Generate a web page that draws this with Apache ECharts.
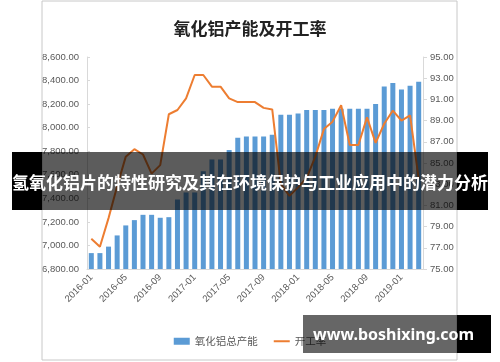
<!DOCTYPE html>
<html><head><meta charset="utf-8">
<script src="https://cdn.jsdelivr.net/npm/echarts@6/dist/echarts.min.js"></script>
<style>html,body{margin:0;padding:0;background:#fff}#c{width:500px;height:362px}</style>
</head><body><div id="c"></div>
<script>
const titleText = '氧化铝产能及开工率';
const bannerText = '氢氧化铝片的特性研究及其在环境保护与工业应用中的潜力分析';
const watermarkText = 'www.boshixing.com';
const seriesNames = ['氧化铝总产能', '开工率'];
const months = ['2016-01','2016-02','2016-03','2016-04','2016-05','2016-06','2016-07','2016-08','2016-09','2016-10','2016-11','2016-12',
  '2017-01','2017-02','2017-03','2017-04','2017-05','2017-06','2017-07','2017-08','2017-09','2017-10','2017-11','2017-12',
  '2018-01','2018-02','2018-03','2018-04','2018-05','2018-06','2018-07','2018-08','2018-09','2018-10','2018-11','2018-12',
  '2019-01','2019-02','2019-03'];
const capacity = [6935,6935,6990,7085,7170,7215,7260,7260,7235,7240,7390,7450,
  7450,7630,7730,7730,7810,7915,7925,7925,7925,7940,8110,8110,
  8120,8150,8150,8150,8160,8160,8160,8160,8160,8200,8350,8380,
  8325,8355,8390];
const rate = [77.85,77.1,79.8,82.8,85.6,86.3,85.8,84.0,84.8,89.6,90.0,91.1,
  93.3,93.3,92.2,92.2,91.1,90.75,90.75,90.75,90.2,90.05,83.0,81.9,
  82.7,83.6,85.6,88.2,88.9,90.45,86.7,86.7,89.3,86.9,88.7,89.95,
  89.0,89.5,83.5];
const leftTicks = [6800,7000,7200,7400,7600,7800,8000,8200,8400,8600];
const rightTicks = [75,77,79,81,83,85,87,89,91,93,95];

const axisFont = '"Liberation Sans", Arial, sans-serif';
const cjk = '"Noto Sans CJK SC", sans-serif';
const axisGray = '#d9d9d9';
const labelGray = '#595959';

const chart = echarts.init(document.getElementById('c'), null, {renderer: 'canvas'});
chart.setOption({
  animation: false,
  backgroundColor: '#fff',
  title: {
    text: titleText, left: 'center', top: 15,
    textStyle: {fontFamily: cjk, fontSize: 17, fontWeight: 'bold', color: '#222'}
  },
  grid: {left: 87, right: 77, top: 57, height: 212},
  legend: {
    top: 331, left: 'center', itemWidth: 16, itemHeight: 7, itemGap: 15,
    textStyle: {fontFamily: cjk, fontSize: 10.5, color: labelGray},
    data: [{name: seriesNames[0], icon: 'rect'},
           {name: seriesNames[1], itemStyle: {opacity: 0}, lineStyle: {color: '#ed7d31', width: 2}}]
  },
  xAxis: {
    type: 'category', data: months,
    axisLine: {lineStyle: {color: axisGray}},
    axisTick: {interval: 3, length: 4, lineStyle: {color: axisGray}},
    axisLabel: {interval: 3, rotate: 45, margin: 7, fontSize: 9.5, color: labelGray, fontFamily: axisFont}
  },
  yAxis: [{
    type: 'value', min: leftTicks[0], max: leftTicks[leftTicks.length - 1], interval: leftTicks[1] - leftTicks[0],
    splitLine: {show: false},
    axisLine: {show: true, lineStyle: {color: axisGray}},
    axisTick: {show: true, inside: true, length: 3, lineStyle: {color: axisGray}},
    axisLabel: {margin: 8, fontSize: 9.5, color: labelGray, fontFamily: axisFont,
      formatter: v => v.toLocaleString('en-US', {minimumFractionDigits: 2, maximumFractionDigits: 2})}
  }, {
    type: 'value', position: 'right', min: rightTicks[0], max: rightTicks[rightTicks.length - 1],
    splitLine: {show: false},
    axisLine: {show: true, lineStyle: {color: axisGray}},
    axisTick: {show: true, length: 4, lineStyle: {color: axisGray}, customValues: rightTicks},
    axisLabel: {margin: 7, fontSize: 9.5, color: labelGray, fontFamily: axisFont, customValues: rightTicks,
      formatter: v => Number(v).toFixed(2)}
  }],
  series: [{
    name: seriesNames[0], type: 'bar', data: capacity, yAxisIndex: 0,
    barWidth: 5, itemStyle: {color: '#5b9bd5'}
  }, {
    name: seriesNames[1], type: 'line', data: rate, yAxisIndex: 1,
    symbol: 'none', lineStyle: {color: '#ed7d31', width: 2}, itemStyle: {color: '#ed7d31'}
  }],
  graphic: [
    {type: 'rect', z: 1, silent: true, shape: {x: 42, y: 1, width: 415, height: 359},
      style: {fill: 'none', stroke: '#c8c8c8', lineWidth: 1}},
    {type: 'rect', z: 100, shape: {x: 12, y: 152, width: 30, height: 58}, style: {fill: '#000'}},
    {type: 'rect', z: 100, shape: {x: 42, y: 152, width: 415, height: 58}, style: {fill: 'rgba(0,0,0,0.64)'}},
    {type: 'rect', z: 100, shape: {x: 457, y: 152, width: 31, height: 58}, style: {fill: '#000'}},
    {type: 'text', z: 101, style: {text: bannerText, x: 250, y: 183, align: 'center', verticalAlign: 'middle',
      fill: '#fff', fontSize: 17, fontWeight: 'bold', fontFamily: cjk}},
    {type: 'rect', z: 100, shape: {x: 303, y: 315, width: 154, height: 38}, style: {fill: 'rgba(0,0,0,0.6)'}},
    {type: 'rect', z: 100, shape: {x: 457, y: 315, width: 34, height: 38}, style: {fill: '#000'}},
    {type: 'text', z: 101, style: {text: watermarkText, x: 313, y: 335, align: 'left', verticalAlign: 'middle',
      fill: '#fff', fontSize: 16, fontWeight: 'bold', fontFamily: '"Noto Sans", sans-serif'}}
  ]
});
</script></body></html>
